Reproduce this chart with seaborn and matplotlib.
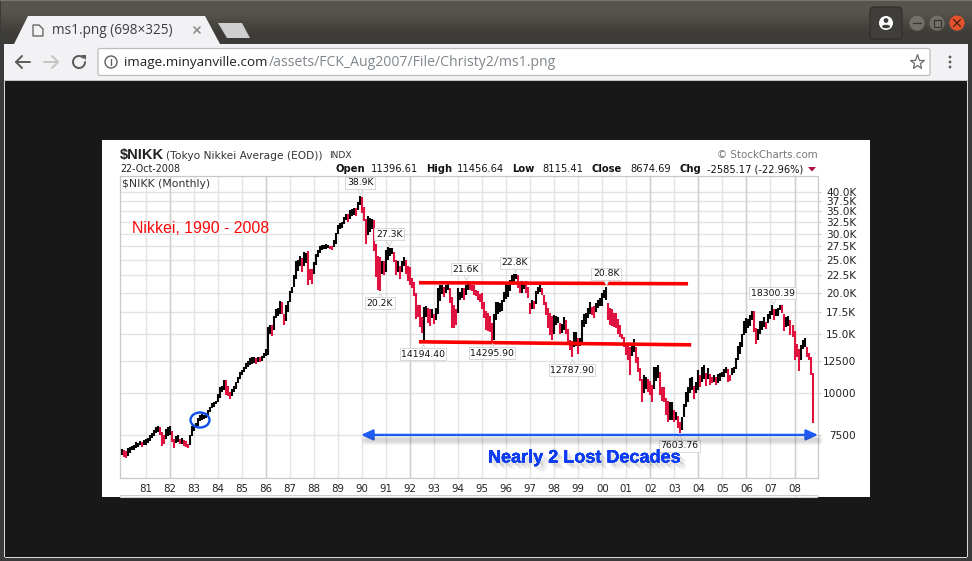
import numpy as np
import pandas as pd
import matplotlib
matplotlib.use("Agg")
import matplotlib.pyplot as plt
import matplotlib.patheffects as pe
from matplotlib.patches import Polygon, Rectangle, Circle, Ellipse, FancyBboxPatch
from matplotlib.ticker import FixedLocator, FixedFormatter, NullLocator
from matplotlib.transforms import offset_copy
import seaborn as sns

# ---------- data ----------
highs = [
 6800,6750,6700,6850,6900,6950,7000,7150,7100,7200,7150,7250,  # 1980
 7300,7350,7500,7600,7750,7920,7950,7900,7650,7500,7800,7900,  # 1981
 7950,7700,7300,7450,7500,7300,7350,7250,7200,7050,7500,8000,  # 1982
 8050,8150,8400,8600,8650,8600,8750,8900,9100,9350,9400,9500,  # 1983
 9950,10400,10500,10950,10950,10500,10100,10300,10500,10800,11150,11600,  # 1984
 11700,12000,12300,12500,12700,12800,12850,12700,12850,12800,12900,13150,  # 1985
 13600,15800,16000,16000,17000,17800,18000,18900,18800,17300,18300,18900,  # 1986
 20200,20800,22500,24800,25000,25800,25300,26500,26200,26650,23500,23500,  # 1987
 24600,26000,26800,27500,27800,27800,27900,27800,27600,27500,28800,30200,  # 1988
 31800,32200,32500,33700,34300,34300,35200,35500,35700,35700,37200,38900,  # 1989
 38700,36000,33200,33800,33500,33200,33000,28000,25700,25600,24800,24900,  # 1990
 26800,27300,27200,27200,26400,25000,24800,24000,24900,25500,25000,24000,  # 1991
 23800,22100,21500,20000,18300,18300,16900,18100,18200,18000,17800,17900,  # 1992
 17300,18000,20600,21100,21000,20800,21100,21300,20600,19400,18400,17900,  # 1993
 20700,20100,20700,20600,21000,21600,21300,21100,21000,20300,20200,19800,  # 1994
 19900,18800,17600,17400,17000,16200,17200,18700,18700,18600,19000,20100,  # 1995
 21300,21000,21800,22600,22700,22800,22600,21300,21700,21500,21700,20800,  # 1996
 18600,19000,18900,20200,20800,21100,20700,19700,18800,18000,17400,17000,  # 1997
 17100,17000,16900,16200,16100,16900,16500,15600,14400,14300,15200,15200,  # 1998
 14600,14600,16500,17200,17400,18000,18700,18100,18200,18600,19000,19300,  # 1999
 20000,20300,20800,18600,18000,17800,17400,17400,16700,16000,15000,14700,  # 2000
 14000,13800,13700,14100,14500,13700,12800,11900,11000,11300,11200,11000,  # 2001
 10900,10600,12000,12000,12100,11600,10400,10400,9700,9500,9400,9400,  # 2002
 8900,8800,8550,8200,8500,9300,10100,10400,11100,11200,10500,10800,  # 2003
 11700,11300,12000,12100,11500,11900,11400,11200,11300,11200,11400,11500,  # 2004
 11600,11800,12000,11800,11300,11900,12000,12700,13800,14200,15000,16400,  # 2005
 16800,16700,17100,17600,17600,15700,15600,16400,16400,16900,16300,17300,  # 2006
 17600,18300,17800,17800,18000,18300,18300,17200,16900,17000,16500,16000,  # 2007
 15300,14000,13600,13900,14400,14600,13700,13200,12800,11456,  # 2008
]
lows = [
 6550,6450,6400,6500,6600,6750,6780,6850,6900,7000,6900,6980,  # 1980
 7000,7100,7200,7350,7450,7600,7650,7500,6950,7050,7300,7450,  # 1981
 7500,7150,6850,7100,7150,7050,7050,6950,6900,6850,7000,7450,  # 1982
 7700,7850,7950,8250,8300,8350,8450,8600,8800,9000,9100,9250,  # 1983
 9400,9700,10100,10200,9900,9800,9600,9800,10100,10300,10700,11000,  # 1984
 11300,11600,11800,12000,12100,12200,12300,12250,12400,12400,12500,12700,  # 1985
 12900,13000,15000,14800,15500,16800,17000,17300,17200,16000,16400,17500,  # 1986
 18800,19900,20800,22000,23200,24000,23000,24000,24500,21000,21800,21200,  # 1987
 22800,24200,25500,26300,26800,27000,27000,27200,27000,26900,27400,28000,  # 1988
 30000,31000,31300,32000,33000,32500,33300,33900,34200,34000,35300,36500,  # 1989
 34700,32800,28000,29800,30300,31000,26700,22200,20400,20200,22800,22600,  # 1990
 23100,25000,25800,26000,24600,22500,23000,21900,23000,24000,22700,21700,  # 1991
 21000,20600,19500,16700,16900,15800,15100,14194,16900,16200,15900,16800,  # 1992
 16100,16500,17300,18900,19800,19400,20000,20300,18600,15700,15700,16000,  # 1993
 17400,19000,19300,19000,19700,20400,20300,20200,19700,19500,19000,18700,  # 1994
 17800,16800,15400,15300,15200,14296,14400,16500,17300,17500,17600,18800,  # 1995
 19100,19400,20200,21200,21500,21900,20700,20000,20000,20500,20000,19200,  # 1996
 17300,17900,17900,18500,19800,20100,19600,18300,17100,15700,14900,14430,  # 1997
 15000,16000,16200,15000,15100,15500,15000,13900,13500,12788,13700,13800,  # 1998
 13100,13800,14200,15800,16100,16800,17300,17100,16800,17500,18000,18200,  # 1999
 18200,19200,19000,16600,16000,15900,15800,15700,15000,14700,14500,13700,  # 2000
 13000,12600,11300,12900,13300,12300,11600,10900,9400,10000,10300,10100,  # 2001
 9900,9420,10300,10900,11100,9900,9500,9400,8600,8200,8300,8300,  # 2002
 8200,8300,7860,7604,7750,8500,9100,9400,10000,10200,9600,10000,  # 2003
 10200,10400,10800,11000,10500,11000,10600,10700,10800,10600,10700,10900,  # 2004
 11200,11200,11500,10800,10900,11300,11500,11800,12600,13100,13700,14900,  # 2005
 15100,15700,15900,16500,15200,14050,14400,15000,15500,15800,15600,16200,  # 2006
 16700,17100,16500,17000,17000,17700,17400,15300,15800,15900,14900,14700,  # 2007
 12570,12800,11650,12600,13600,13700,12800,12600,11300,8115,  # 2008
]
first_year = 1980
year_ticks = list(range(1981, 2009))
year_labels = [f"{y % 100:02d}" for y in year_ticks]
price_ticks = [7500, 10000, 12500, 15000, 17500, 20000, 22500, 25000, 27500, 30000, 32500, 35000, 37500, 40000]
price_labels = ["7500", "10000", "12500", "15.0K", "17.5K", "20.0K", "22.5K", "25.0K", "27.5K", "30.0K", "32.5K", "35.0K", "37.5K", "40.0K"]
strong_years = [1982, 1986, 1992, 2002, 2004, 2006, 2008]

upper_x, upper_y = [1992.37, 2003.57], [21400, 21250]
lower_x, lower_y = [1992.37, 2003.70], [14245, 13950]

peak_text = ["38.9K", "27.3K", "20.2K", "21.6K", "22.8K", "20.8K", "18300.39", "14194.40", "14295.90", "12787.90", "7603.76"]
peak_year = [1989.92, 1991.13, 1990.75, 1994.33, 1996.37, 2000.16, 2007.10, 1992.54, 1995.41, 1998.74, 2003.20]
peak_value = [38900, 27300, 20200, 21600, 22800, 20800, 18300, 14194, 14296, 12788, 7604]
peak_shift = [13, 13, -12, 12, 11, 13, 12, -12, -12, -13, -13]

# ---------- figure ----------
sns.set_theme(style="white")
plt.rcParams["font.family"] = ["DejaVu Sans"]
W, H = 972, 561
fig = plt.figure(figsize=(W / 100, H / 100), dpi=100, facecolor="#3a3a3a")

# browser window, in pixel coordinates
bg = fig.add_axes([0, 0, 1, 1], zorder=0)
bg.set_xlim(0, W); bg.set_ylim(H, 0); bg.axis("off")
grad = np.array([[0.345, 0.333, 0.306], [0.243, 0.235, 0.216]]).reshape(2, 1, 3)
bg.imshow(grad, extent=(1, 971, 44, 1), aspect="auto", interpolation="bilinear", zorder=1)
bg.set_xlim(0, W); bg.set_ylim(H, 0)
bg.add_patch(Rectangle((0, 0), W, 1.2, fc="#777570", ec="none", zorder=2))
bg.add_patch(Rectangle((4, 44), 964, 37, fc="#f2f1f4", ec="none", zorder=2))
bg.add_patch(Rectangle((4, 80), 964, 1, fc="#c4c4c4", ec="none", zorder=2))
bg.add_patch(Rectangle((5, 81), 962, 476, fc="#181818", ec="none", zorder=2))
bg.add_patch(Rectangle((5, 556.5), 962, 1, fc="#d8d8d8", ec="none", zorder=3))
bg.add_patch(Rectangle((967, 81), 1, 476, fc="#d8d8d8", ec="none", zorder=3))
bg.add_patch(Rectangle((4, 81), 1, 476, fc="#d8d8d8", ec="none", zorder=3))
bg.add_patch(Polygon([[14, 44], [28, 16], [205, 16], [220, 44]], fc="#f2f1f4", ec="none", zorder=3))
bg.add_patch(Polygon([[218, 23], [242, 23], [250, 38], [227, 38]], fc="#cfcfcf", ec="none", zorder=3))
bg.add_patch(Polygon([[33, 25], [39, 25], [43, 29], [43, 36], [33, 36]], fc="none", ec="#5a5a5a", lw=0.9, zorder=4))
bg.add_patch(FancyBboxPatch((98, 48.5), 832, 27, boxstyle="round,pad=0,rounding_size=2", fc="white", ec="#bdbdbd", lw=0.9, zorder=4))
bg.add_patch(FancyBboxPatch((870, 7), 32, 32, boxstyle="round,pad=0,rounding_size=4", fc="#3f3e3a", ec="#2e2d2a", lw=0.8, zorder=4))
bg.add_patch(Circle((886, 23), 7, fc="white", ec="none", zorder=5))
bg.add_patch(Circle((886, 20.5), 2.4, fc="#3f3e3a", ec="none", zorder=6))
bg.add_patch(Ellipse((886, 26.5), 8, 3.5, fc="#3f3e3a", ec="none", zorder=6))
for cx, fc in [(917, "#716f69"), (937, "#716f69"), (957, "#e4532b")]:
    bg.add_patch(Circle((cx, 23), 8, fc=fc, ec="#4a4944", lw=0.6, zorder=4))
bg.plot([913, 921], [23, 23], color="#36352f", lw=0.9, zorder=6)
bg.add_patch(Rectangle((933.5, 19.5), 7, 7, fc="none", ec="#36352f", lw=0.9, zorder=6))
bg.plot([953.5, 960.5], [19.5, 26.5], color="#40200f", lw=0.9, zorder=6)
bg.plot([953.5, 960.5], [26.5, 19.5], color="#40200f", lw=0.9, zorder=6)
bg.plot([194, 200], [27, 33], color="#8d8d8d", lw=1.2, zorder=6)
bg.plot([194, 200], [33, 27], color="#8d8d8d", lw=1.2, zorder=6)
# toolbar icons
bg.plot([16, 30], [62, 62], color="#5a5a5a", lw=1.4, zorder=6)
bg.plot([22, 16, 22], [56, 62, 68], color="#5a5a5a", lw=1.4, zorder=6)
bg.plot([44, 58], [62, 62], color="#c4c4c4", lw=1.4, zorder=6)
bg.plot([52, 58, 52], [56, 62, 68], color="#c4c4c4", lw=1.4, zorder=6)
th = np.linspace(0.25 * np.pi, 2.0 * np.pi, 40)
bg.plot(79 + 6 * np.cos(th), 62 - 6 * np.sin(th), color="#5a5a5a", lw=1.4, zorder=6)
bg.add_patch(Polygon([[81, 55], [86, 55], [86, 60]], fc="#5a5a5a", ec="none", zorder=6))
bg.add_patch(Circle((111, 62), 6, fc="none", ec="#5f5f5f", lw=1, zorder=6))
bg.plot([111, 111], [61, 65], color="#5f5f5f", lw=1, zorder=6)
bg.plot([111, 111], [58.5, 59.5], color="#5f5f5f", lw=1, zorder=6)
bg.plot([917], [62], marker="*", ms=11, mfc="none", mec="#6a6a6a", mew=0.9, zorder=6)
for yy in [57, 62, 67]:
    bg.add_patch(Circle((950, yy), 1.4, fc="#5a5a5a", ec="none", zorder=6))
# chart image canvas
bg.add_patch(Rectangle((102, 140), 768, 357, fc="white", ec="none", zorder=4))
bg.add_patch(Rectangle((120, 495), 697, 2, fc="none", ec="#cfcfcf", lw=0.8, zorder=5))
bg.plot([794.5, 794.5], [495, 497], color="#cfcfcf", lw=0.8, zorder=6)
bg.text(52, 30.5, "ms1.png (698×325)", family="Open Sans", fontsize=9.8, color="#3c4043", va="center", zorder=7)
bg.text(124, 62.5, "image.minyanville.com", family="Open Sans", fontsize=9.7, color="#202124", va="center", zorder=7)
bg.text(269, 62.5, "/assets/FCK_Aug2007/File/Christy2/ms1.png", family="Open Sans", fontsize=10.05, color="#80868b", va="center", zorder=7)

# price panel
ax = fig.add_axes([120 / W, 1 - 478 / H, (817.5 - 120) / W, (478 - 176) / H], zorder=2)
ax.set_facecolor("white")
bar_high = np.array(highs, float)
bar_low = np.array(lows, float)
bar_mid = (bar_high + bar_low) / 2
bar_t = first_year + np.arange(len(highs)) / 12
rising = np.r_[True, np.diff(bar_mid) >= 0]
bars = pd.DataFrame({
    "t": np.repeat(bar_t, 2),
    "price": np.ravel(np.column_stack([bar_low, bar_high])),
    "month": np.repeat(np.arange(len(highs)), 2),
    "dir": np.repeat(np.where(rising, "up", "down"), 2),
})
sns.lineplot(data=bars, x="t", y="price", units="month", hue="dir", estimator=None, sort=False,
             palette={"up": "#050505", "down": "#e0123f"}, linewidth=1.5, legend=False, ax=ax,
             solid_capstyle="butt", zorder=4)
sns.lineplot(x=upper_x, y=upper_y, color="#fa0000", linewidth=2.6, ax=ax, solid_capstyle="butt", zorder=6, errorbar=None)
sns.lineplot(x=lower_x, y=lower_y, color="#fa0000", linewidth=2.6, ax=ax, solid_capstyle="butt", zorder=6, errorbar=None)
ax.set_yscale("log")
ax.set_xlim(1979.93, 2008.957)
ax.set_ylim(5574, 44640)
ax.set_xlabel(""); ax.set_ylabel("")
ax.xaxis.set_major_locator(FixedLocator(year_ticks))
ax.xaxis.set_major_formatter(FixedFormatter(year_labels))
ax.yaxis.set_major_locator(FixedLocator(price_ticks))
ax.yaxis.set_major_formatter(FixedFormatter(price_labels))
ax.yaxis.set_minor_locator(NullLocator())
ax.xaxis.set_minor_locator(NullLocator())
ax.yaxis.tick_right()
ax.tick_params(axis="x", length=0, pad=4, labelsize=7.4, labelcolor="#222222")
ax.tick_params(axis="y", length=2, width=0.7, color="#c8c8c8", pad=26, labelsize=7.6, labelcolor="#222222")
for lab in ax.get_yticklabels():
    lab.set_ha("right")
ax.grid(True, axis="both", color="#e3e3e3", lw=1.0, zorder=1)
ax.set_axisbelow(True)
for y in strong_years:
    ax.axvline(y, color="#cecece", lw=1.0, zorder=1.5)
for s in ax.spines.values():
    s.set_color("#c8c8c8"); s.set_linewidth(0.9)

# labelled peaks and troughs
for txt, yr, val, dy in zip(peak_text, peak_year, peak_value, peak_shift):
    tr = offset_copy(ax.transData, fig=fig, x=0, y=np.sign(dy) * 4.5, units="dots")
    ax.plot([yr], [val], marker="v" if dy > 0 else "^", ms=5, mfc="white", mec="#d5d5d5", mew=0.7,
            transform=tr, zorder=7, clip_on=False)
    ax.annotate(txt, xy=(yr, val), xytext=(0, dy), textcoords="offset pixels", ha="center", va="center",
                fontsize=6.7, color="#111111", zorder=8, annotation_clip=False,
                bbox=dict(boxstyle="square,pad=0.16", fc="white", ec="#d8d8d8", lw=0.7))

# horizon arrow
ax.annotate("", xy=(2008.98, 7500), xytext=(1989.96, 7500), zorder=9, annotation_clip=False,
            arrowprops=dict(arrowstyle="<|-|>,head_length=0.7,head_width=0.32", color="#1f5cf5", lw=1.7,
                            shrinkA=0, shrinkB=0, mutation_scale=10))

# text and marks above the panel, in pixel coordinates
top = fig.add_axes([0, 0, 1, 1], zorder=3)
top.set_xlim(0, W); top.set_ylim(H, 0); top.axis("off"); top.patch.set_alpha(0)
for w, a in [(7, 0.05), (5, 0.07), (3, 0.09)]:
    top.plot([366, 818], [440, 440], color="#404040", lw=w, alpha=a, solid_capstyle="round")

sans = "Liberation Sans"
top.text(120, 155, r"\$NIKK", family=sans, weight="bold", fontsize=10.5, color="#222222", va="center")
top.text(166, 155.5, "(Tokyo Nikkei Average (EOD))", family="DejaVu Sans", fontsize=7.7, color="#333333", va="center")
top.text(329, 155.5, "INDX", family="DejaVu Sans", fontsize=6.6, color="#333333", va="center")
top.text(818, 155, "© StockCharts.com", family="DejaVu Sans", fontsize=7.4, color="#777777", va="center", ha="right")
top.text(120, 169, "22-Oct-2008", family="DejaVu Sans", fontsize=6.9, color="#222222", va="center")
for x0, s, bold in [(335, "Open", True), (371, "11396.61", False), (426, "High", True), (457, "11456.64", False),
                    (512, "Low", True), (542, "8115.41", False), (591, "Close", True), (630, "8674.69", False),
                    (679, "Chg", True), (707, "-2585.17 (-22.96%)", False)]:
    top.text(x0, 169, s, family="DejaVu Sans", weight="bold" if bold else "normal",
             fontsize=7.2 if bold else 7.1, color="#111111", va="center")
top.add_patch(Polygon([[808, 167], [816, 167], [812, 171.5]], fc="#a8123c", ec="none"))
top.text(122, 183.5, r"\$NIKK (Monthly)", family="DejaVu Sans", fontsize=7.8, color="#333333", va="center")
top.text(132, 228, "Nikkei, 1990 - 2008", family=sans, fontsize=11.4, color="#fa0a0a", va="center")
top.add_patch(Ellipse((200, 420), 19, 15, fc="none", ec="#0b4fe8", lw=1.7))
shadow = [pe.withSimplePatchShadow(offset=(o, -o), shadow_rgbFace="#666666", alpha=a)
          for o, a in [(5, 0.05), (4, 0.08), (3, 0.1), (2, 0.12)]] + [pe.Normal()]
top.text(488, 458, "Nearly 2 Lost Decades", family=sans, weight="bold", fontsize=13, color="#0d3df2",
         va="center", path_effects=shadow)

fig.savefig("out.png", dpi=100, facecolor=fig.get_facecolor())
